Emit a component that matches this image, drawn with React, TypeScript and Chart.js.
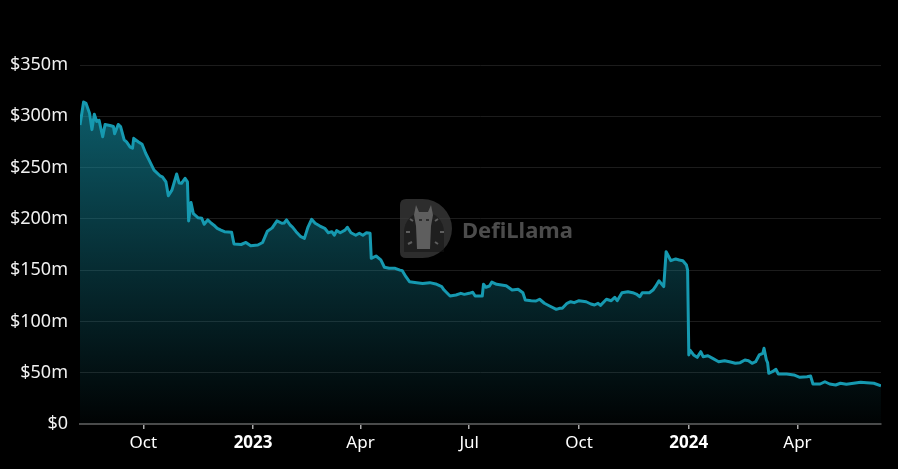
import React, { useEffect, useRef } from "react";
import { Chart, registerables } from "chart.js";

Chart.register(...registerables);

const dates: string[] = [
  "2022-08-09", "2022-08-12", "2022-08-14", "2022-08-17", "2022-08-19", "2022-08-21", "2022-08-23", "2022-08-25",
  "2022-08-28", "2022-08-30", "2022-09-03", "2022-09-06", "2022-09-07", "2022-09-10", "2022-09-12", "2022-09-15",
  "2022-09-17", "2022-09-20", "2022-09-22", "2022-09-23", "2022-09-27", "2022-09-30", "2022-10-03", "2022-10-06",
  "2022-10-10", "2022-10-15", "2022-10-17", "2022-10-20", "2022-10-22", "2022-10-25", "2022-10-29", "2022-10-31",
  "2022-11-02", "2022-11-05", "2022-11-07", "2022-11-08", "2022-11-10", "2022-11-12", "2022-11-16", "2022-11-19",
  "2022-11-21", "2022-11-24", "2022-11-27", "2022-11-30", "2022-12-02", "2022-12-05", "2022-12-08", "2022-12-14",
  "2022-12-16", "2022-12-22", "2022-12-26", "2022-12-30", "2023-01-05", "2023-01-09", "2023-01-13", "2023-01-17",
  "2023-01-21", "2023-01-25", "2023-01-27", "2023-01-29", "2023-02-01", "2023-02-03", "2023-02-06", "2023-02-10",
  "2023-02-13", "2023-02-16", "2023-02-19", "2023-02-22", "2023-02-26", "2023-03-02", "2023-03-05", "2023-03-08",
  "2023-03-10", "2023-03-12", "2023-03-15", "2023-03-19", "2023-03-21", "2023-03-24", "2023-03-28", "2023-03-31",
  "2023-04-03", "2023-04-06", "2023-04-09", "2023-04-10", "2023-04-14", "2023-04-18", "2023-04-21", "2023-04-25",
  "2023-04-30", "2023-05-04", "2023-05-06", "2023-05-09", "2023-05-12", "2023-05-18", "2023-05-23", "2023-05-29",
  "2023-06-03", "2023-06-08", "2023-06-10", "2023-06-15", "2023-06-20", "2023-06-24", "2023-06-27", "2023-07-01",
  "2023-07-04", "2023-07-06", "2023-07-12", "2023-07-13", "2023-07-15", "2023-07-18", "2023-07-20", "2023-07-24",
  "2023-07-28", "2023-08-01", "2023-08-06", "2023-08-11", "2023-08-15", "2023-08-17", "2023-08-22", "2023-08-26",
  "2023-08-29", "2023-09-02", "2023-09-06", "2023-09-12", "2023-09-15", "2023-09-17", "2023-09-21", "2023-09-24",
  "2023-09-27", "2023-10-01", "2023-10-07", "2023-10-11", "2023-10-14", "2023-10-17", "2023-10-19", "2023-10-24",
  "2023-10-28", "2023-10-31", "2023-11-02", "2023-11-06", "2023-11-11", "2023-11-15", "2023-11-18", "2023-11-21",
  "2023-11-23", "2023-11-29", "2023-12-02", "2023-12-04", "2023-12-07", "2023-12-11", "2023-12-13", "2023-12-17",
  "2023-12-21", "2023-12-24", "2023-12-27", "2023-12-30", "2023-12-31", "2024-01-01", "2024-01-02", "2024-01-05",
  "2024-01-08", "2024-01-11", "2024-01-13", "2024-01-17", "2024-01-21", "2024-01-26", "2024-01-31", "2024-02-04",
  "2024-02-09", "2024-02-13", "2024-02-17", "2024-02-20", "2024-02-23", "2024-02-26", "2024-02-29", "2024-03-03",
  "2024-03-04", "2024-03-06", "2024-03-07", "2024-03-08", "2024-03-11", "2024-03-14", "2024-03-16", "2024-03-23",
  "2024-03-29", "2024-04-03", "2024-04-09", "2024-04-12", "2024-04-14", "2024-04-20", "2024-04-24", "2024-04-28",
  "2024-05-03", "2024-05-07", "2024-05-12", "2024-05-18", "2024-05-24", "2024-05-29", "2024-06-04", "2024-06-10",
];

// TVL in millions of USD
const tvl: number[] = [
  291.5, 314, 312.6, 303, 287, 302, 295, 296,
  280, 292, 291, 290, 283, 292, 290, 277,
  275, 270, 269, 278.5, 275, 272.7, 264, 257,
  247.5, 242, 241, 236, 222.5, 228, 243.7, 235,
  234.6, 239.5, 236, 198, 216, 205, 201, 200.5,
  194.7, 199, 195.7, 193, 190.8, 189, 187.5, 187,
  175.5, 175, 177, 173.8, 174.5, 177, 188, 191.2,
  198, 195.7, 196, 199, 194, 192, 187.5, 182.6,
  181, 192, 199.6, 195.7, 193, 190.8, 186.5, 187.5,
  184, 188.5, 186.5, 189, 191.8, 186.5, 184, 186,
  184, 186.5, 186, 161.5, 163.8, 160, 152.8, 151.8,
  151.8, 150, 149.5, 143.6, 138.7, 137.8, 137, 137.8,
  136.5, 133.9, 130.6, 124.8, 125.8, 127.4, 126.4, 127.4,
  128.4, 124.8, 124.8, 136.2, 133.3, 134.5, 138.4, 136.2,
  135.5, 134.8, 130.6, 131.3, 128, 120.9, 120.2, 119.9,
  121.6, 117.7, 115.3, 111.8, 112.8, 112.8, 117.7, 119.2,
  118.3, 120.2, 119.2, 117, 116, 117.7, 115.7, 121.6,
  120.2, 123.5, 120.2, 128, 129, 128, 126.7, 124.1,
  128, 128, 130.6, 133.9, 139.7, 133.9, 168, 159.2,
  160.9, 159.9, 159.2, 155, 150, 67.3, 72, 67.3,
  65, 70.5, 65.6, 66.6, 64, 60.7, 61.7, 60.7,
  59.2, 59.8, 62.4, 61.7, 59.2, 60.7, 67.3, 68.9,
  73.8, 62.4, 59.8, 49.4, 51, 53.3, 48.7, 48.7,
  47.8, 45.5, 46.1, 46.8, 39, 39, 41.2, 39,
  38, 39.7, 38.7, 39.7, 40.7, 40.3, 39.7, 37.3,
];

const rangeStart = "2022-08-09";
const rangeEnd = "2024-06-10";
const tickDates: string[] = ["2022-10-01", "2023-01-01", "2023-04-01", "2023-07-01", "2023-10-01", "2024-01-01", "2024-04-01"];
const tickLabels: string[] = ["Oct", "2023", "Apr", "Jul", "Oct", "2024", "Apr"];
const yTicks: number[] = [0, 50, 100, 150, 200, 250, 300, 350];

const FONT = "'Noto Sans', 'Open Sans', sans-serif";

const watermark = {
  id: "watermark",
  beforeDatasetsDraw(chart: any) {
    const ctx = chart.ctx as CanvasRenderingContext2D;
    ctx.save();
    // D shaped badge
    const x0 = 400, y0 = 199, h = 59, r = h / 2;
    ctx.fillStyle = "rgba(60,60,60,0.75)";
    ctx.beginPath();
    ctx.moveTo(x0 + 6, y0);
    ctx.lineTo(x0 + 52 - r, y0);
    ctx.arc(x0 + 52 - r, y0 + r, r, -Math.PI / 2, Math.PI / 2);
    ctx.lineTo(x0 + 6, y0 + h);
    ctx.quadraticCurveTo(x0, y0 + h, x0, y0 + h - 6);
    ctx.lineTo(x0, y0 + 6);
    ctx.quadraticCurveTo(x0, y0, x0 + 6, y0);
    ctx.closePath();
    ctx.fill();
    // inner dark arc
    ctx.fillStyle = "rgba(20,20,20,0.55)";
    ctx.beginPath();
    ctx.arc(x0 + 24, y0 + 33, 20, Math.PI, 0);
    ctx.lineTo(x0 + 44, y0 + h - 6);
    ctx.lineTo(x0 + 4, y0 + h - 6);
    ctx.closePath();
    ctx.fill();
    // llama silhouette
    ctx.fillStyle = "rgba(110,110,110,0.8)";
    ctx.beginPath();
    ctx.moveTo(x0 + 16, y0 + 6);
    ctx.lineTo(x0 + 19, y0 + 13);
    ctx.lineTo(x0 + 28, y0 + 13);
    ctx.lineTo(x0 + 31, y0 + 6);
    ctx.lineTo(x0 + 33, y0 + 16);
    ctx.lineTo(x0 + 31, y0 + 27);
    ctx.lineTo(x0 + 30, y0 + 50);
    ctx.lineTo(x0 + 17, y0 + 50);
    ctx.lineTo(x0 + 16, y0 + 27);
    ctx.lineTo(x0 + 14, y0 + 16);
    ctx.closePath();
    ctx.fill();
    ctx.fillStyle = "rgba(40,40,40,0.9)";
    ctx.fillRect(x0 + 19, y0 + 20, 3, 2);
    ctx.fillRect(x0 + 26, y0 + 20, 3, 2);
    // rays
    ctx.strokeStyle = "rgba(110,110,110,0.8)";
    ctx.lineWidth = 2;
    const rays = [[6, 33, 10, 33], [8, 45, 12, 43], [10, 20, 13, 22], [40, 33, 44, 33], [38, 20, 35, 22], [38, 45, 35, 43]];
    for (const [a, b, c, d] of rays) {
      ctx.beginPath();
      ctx.moveTo(x0 + a, y0 + b);
      ctx.lineTo(x0 + c, y0 + d);
      ctx.stroke();
    }
    // text
    ctx.fillStyle = "rgba(80,80,80,0.95)";
    ctx.font = "bold 22px " + FONT;
    ctx.textBaseline = "alphabetic";
    ctx.textAlign = "left";
    ctx.fillText("DefiLlama", 462, 238);
    ctx.restore();
  },
};

export default function App() {
  const canvasRef = useRef<HTMLCanvasElement | null>(null);

  useEffect(() => {
    document.body.style.margin = "0";
    document.body.style.background = "#000";
    const canvas = canvasRef.current;
    if (!canvas) return;

    const points = dates.map((d, i) => ({ x: Date.parse(d), y: tvl[i] }));
    const tickValues = tickDates.map((d) => Date.parse(d));

    const chart = new Chart(canvas, {
      type: "line",
      data: {
        datasets: [
          {
            data: points,
            borderColor: "#1699b0",
            borderWidth: 3,
            borderJoinStyle: "round",
            pointRadius: 0,
            tension: 0,
            fill: "origin",
            backgroundColor: (c: any) => {
              const area = c.chart.chartArea;
              if (!area) return "rgba(21,151,173,0.3)";
              const g = c.chart.ctx.createLinearGradient(0, area.top, 0, area.bottom);
              g.addColorStop(0, "rgba(21,151,173,0.68)");
              g.addColorStop(0.55, "rgba(21,151,173,0.3)");
              g.addColorStop(1, "rgba(21,151,173,0.02)");
              return g;
            },
          },
        ],
      },
      options: {
        animation: false,
        responsive: false,
        maintainAspectRatio: false,
        layout: { padding: { top: 65, right: 17, left: 0, bottom: 0 } },
        plugins: { legend: { display: false }, tooltip: { enabled: false } },
        scales: {
          x: {
            type: "linear",
            min: Date.parse(rangeStart),
            max: Date.parse(rangeEnd),
            afterBuildTicks: (scale: any) => {
              scale.ticks = tickValues.map((v) => ({ value: v }));
            },
            afterFit: (scale: any) => {
              scale.height = 45;
            },
            ticks: {
              autoSkip: false,
              maxRotation: 0,
              padding: 4,
              color: "#ffffff",
              font: (c: any) => {
                const lbl = c.tick ? tickLabels[tickValues.indexOf(c.tick.value)] : "";
                const bold = lbl === "2023" || lbl === "2024";
                return { family: FONT, size: 17, weight: bold ? "bold" : "normal" };
              },
              callback: (v: any) => {
                const i = tickValues.indexOf(Number(v));
                return i >= 0 ? tickLabels[i] : "";
              },
            },
            grid: {
              display: true,
              drawOnChartArea: false,
              drawTicks: true,
              tickLength: 5,
              tickColor: "#aaaaaa",
              lineWidth: 1.5,
            },
            border: { display: true, color: "#4a4a4a", width: 2 },
          },
          y: {
            min: 0,
            max: 350,
            afterBuildTicks: (scale: any) => {
              scale.ticks = yTicks.map((v) => ({ value: v }));
            },
            afterFit: (scale: any) => {
              scale.width = 80;
            },
            ticks: {
              padding: 12,
              color: "#f0f0f0",
              font: { family: FONT, size: 18 },
              callback: (v: any) => (Number(v) === 0 ? "$0" : "$" + v + "m"),
            },
            grid: { color: "#1c1c1c", lineWidth: 1, drawTicks: false },
            border: { display: false },
          },
        },
      },
      plugins: [watermark],
    });

    return () => chart.destroy();
  }, []);

  return (
    <div style={{ width: 898, height: 469, background: "#000" }}>
      <canvas ref={canvasRef} width={898} height={469} style={{ display: "block" }} />
    </div>
  );
}
